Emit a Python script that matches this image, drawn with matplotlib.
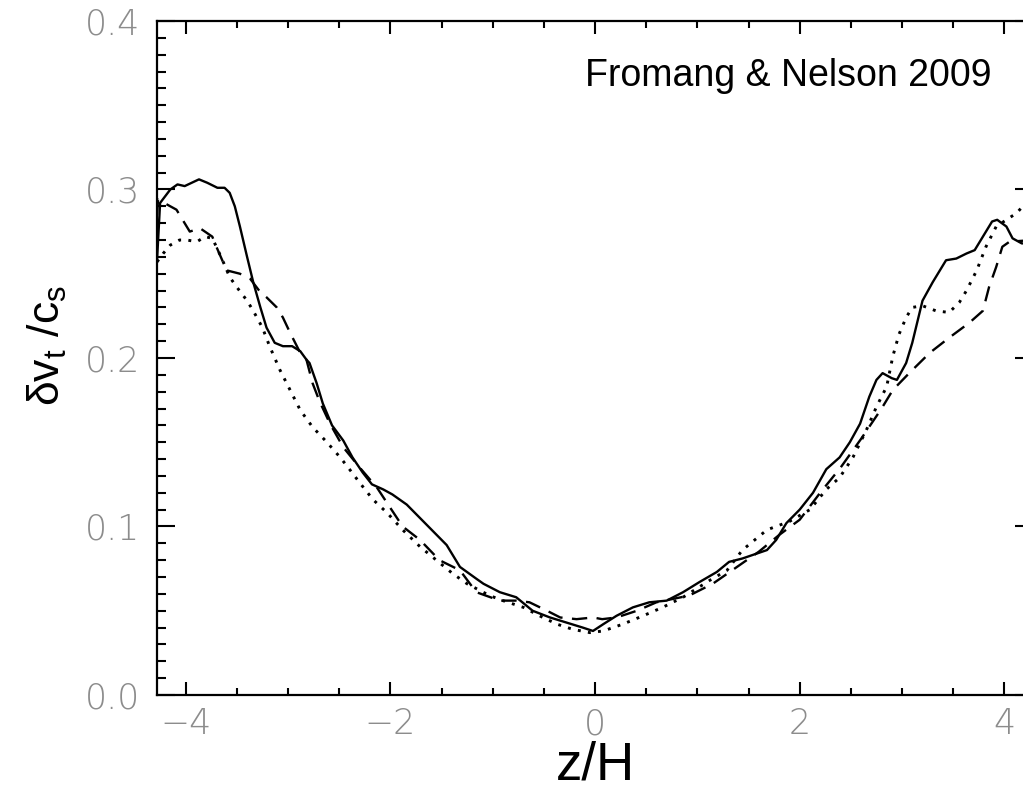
import matplotlib
matplotlib.use("Agg")
import matplotlib.pyplot as plt
from matplotlib.ticker import MultipleLocator, FixedLocator

plt.rcParams["mathtext.fontset"] = "custom"
plt.rcParams["mathtext.rm"] = "Liberation Sans"
plt.rcParams["mathtext.it"] = "Liberation Sans"

# Solid curve
z_solid = [-4.28, -4.25, -4.15, -4.08, -4.01, -3.94, -3.87, -3.79, -3.69, -3.62, -3.57,
           -3.52, -3.47, -3.40, -3.34, -3.27, -3.21, -3.13, -3.05, -2.96, -2.88, -2.82,
           -2.79, -2.72, -2.66, -2.57, -2.46, -2.37, -2.27, -2.18, -2.07, -1.98, -1.84,
           -1.71, -1.58, -1.45, -1.32, -1.16, -1.09, -0.93, -0.77, -0.61, -0.44, -0.28,
           -0.12, -0.02, 0.08, 0.21, 0.37, 0.53, 0.70, 0.86, 1.02, 1.19, 1.31, 1.44,
           1.68, 1.77, 1.87, 2.00, 2.13, 2.26, 2.39, 2.49, 2.59, 2.68, 2.75, 2.81, 2.90,
           2.95, 3.04, 3.10, 3.20, 3.30, 3.43, 3.53, 3.63, 3.71, 3.79, 3.88, 3.93, 4.02,
           4.08, 4.17, 4.28]
v_solid = [0.258, 0.292, 0.300, 0.303, 0.302, 0.304, 0.306, 0.304, 0.301, 0.301, 0.298,
           0.290, 0.278, 0.260, 0.245, 0.230, 0.218, 0.209, 0.207, 0.207, 0.204, 0.199,
           0.197, 0.185, 0.173, 0.160, 0.151, 0.141, 0.132, 0.125, 0.122, 0.119, 0.113,
           0.105, 0.097, 0.089, 0.076, 0.069, 0.066, 0.061, 0.058, 0.050, 0.046, 0.043,
           0.040, 0.038, 0.042, 0.047, 0.052, 0.055, 0.056, 0.061, 0.067, 0.073, 0.079,
           0.081, 0.086, 0.092, 0.102, 0.110, 0.120, 0.134, 0.141, 0.150, 0.161, 0.177,
           0.187, 0.191, 0.188, 0.187, 0.197, 0.209, 0.234, 0.245, 0.258, 0.259, 0.262,
           0.264, 0.272, 0.281, 0.282, 0.278, 0.271, 0.268, 0.268]

# Dashed curve
z_dashed = [-4.28, -4.27, -4.09, -4.03, -3.96, -3.86, -3.74, -3.70, -3.60, -3.47, -3.37,
            -3.27, -3.21, -3.11, -3.05, -2.98, -2.88, -2.82, -2.76, -2.69, -2.59, -2.46,
            -2.30, -2.13, -2.00, -1.88, -1.71, -1.52, -1.32, -1.16, -0.93, -0.77, -0.64,
            -0.47, -0.34, -0.18, -0.02, 0.07, 0.21, 0.41, 0.60, 0.92, 1.15, 1.34, 1.60,
            1.80, 2.00, 2.20, 2.40, 2.60, 2.80, 2.91, 3.07, 3.27, 3.46, 3.66, 3.79, 3.85,
            3.92, 3.98, 4.05, 4.28]
v_dashed = [0.285, 0.294, 0.288, 0.282, 0.275, 0.277, 0.272, 0.266, 0.252, 0.250, 0.247,
            0.239, 0.236, 0.230, 0.224, 0.215, 0.203, 0.199, 0.185, 0.174, 0.161, 0.147,
            0.135, 0.123, 0.111, 0.100, 0.092, 0.080, 0.074, 0.061, 0.056, 0.056, 0.055,
            0.050, 0.046, 0.045, 0.046, 0.045, 0.046, 0.050, 0.055, 0.059, 0.066, 0.074,
            0.085, 0.095, 0.104, 0.120, 0.135, 0.152, 0.170, 0.181, 0.191, 0.203, 0.212,
            0.221, 0.228, 0.242, 0.254, 0.266, 0.269, 0.270]

# Dotted curve
z_dotted = [-4.28, -4.22, -4.15, -4.06, -3.99, -3.89, -3.81, -3.74, -3.70, -3.64, -3.57,
            -3.50, -3.40, -3.34, -3.25, -3.18, -3.08, -2.98, -2.88, -2.76, -2.62, -2.49,
            -2.40, -2.30, -2.17, -2.03, -1.88, -1.71, -1.55, -1.39, -1.25, -1.03, -0.90,
            -0.70, -0.51, -0.37, -0.22, -0.05, 0.08, 0.27, 0.47, 0.66, 0.86, 1.12, 1.29,
            1.44, 1.68, 1.90, 2.10, 2.26, 2.39, 2.52, 2.65, 2.75, 2.85, 2.91, 2.97, 3.04,
            3.10, 3.20, 3.33, 3.46, 3.56, 3.63, 3.73, 3.82, 3.92, 4.02, 4.12, 4.18, 4.28]
v_dotted = [0.257, 0.262, 0.267, 0.270, 0.270, 0.269, 0.272, 0.271, 0.266, 0.258, 0.248,
            0.242, 0.234, 0.228, 0.218, 0.207, 0.193, 0.181, 0.169, 0.159, 0.150, 0.141,
            0.134, 0.126, 0.116, 0.108, 0.098, 0.088, 0.080, 0.072, 0.066, 0.059, 0.056,
            0.052, 0.046, 0.042, 0.039, 0.037, 0.038, 0.042, 0.047, 0.052, 0.058, 0.068,
            0.074, 0.086, 0.098, 0.103, 0.110, 0.122, 0.129, 0.141, 0.157, 0.171, 0.183,
            0.201, 0.214, 0.224, 0.230, 0.231, 0.228, 0.227, 0.233, 0.240, 0.252, 0.266,
            0.278, 0.282, 0.286, 0.290, 0.295]

x_ticks = [-4, -2, 0, 2, 4]
x_ticklabels = ["\u22124", "\u22122", "0", "2", "4"]
y_ticks = [0.0, 0.1, 0.2, 0.3, 0.4]
y_ticklabels = ["0.0", "0.1", "0.2", "0.3", "0.4"]

fig = plt.figure(figsize=(10.23, 7.94), dpi=100)
ax = fig.add_axes([0.1535, 0.1247, 0.8563, 0.8489])

ax.plot(z_solid, v_solid, color="black", lw=1.7, ls="-", solid_joinstyle="round")
ax.plot(z_dashed, v_dashed, color="black", lw=1.7, ls=(0, (6.5, 4)))
ax.plot(z_dotted, v_dotted, color="black", lw=2.1, ls=(0, (1, 2.5)))

ax.set_xlim(-4.28, 4.28)
ax.set_ylim(0, 0.4)

for s in ax.spines.values():
    s.set_linewidth(1.6)

ax.xaxis.set_major_locator(FixedLocator(x_ticks))
ax.xaxis.set_minor_locator(MultipleLocator(0.5))
ax.yaxis.set_major_locator(FixedLocator(y_ticks))
ax.yaxis.set_minor_locator(MultipleLocator(0.01))
ax.set_xticklabels(x_ticklabels)
ax.set_yticklabels(y_ticklabels)

ax.tick_params(axis="x", which="major", direction="in", top=True, length=9.4, width=1.5,
               pad=9, labelsize=25, labelcolor="#8c8c8c")
ax.tick_params(axis="x", which="minor", direction="in", top=True, length=5, width=1.5)
ax.tick_params(axis="y", which="major", direction="in", right=True, length=13, width=1.5,
               pad=12, labelsize=25, labelcolor="#8c8c8c")
ax.tick_params(axis="y", which="minor", direction="in", right=True, length=6.5, width=1.5)
for lab in ax.get_xticklabels() + ax.get_yticklabels():
    lab.set_fontweight("light")

ax.text(0.953, 0.945, "Fromang & Nelson 2009", transform=ax.transAxes,
        ha="right", va="top", fontsize=27, family="Liberation Sans", color="black")

fig.text(0.582, 0.004, "z/H", ha="center", va="bottom", fontsize=38,
         family="Liberation Sans", color="black")
fig.text(0.046, 0.565, r"$\mathrm{\delta v_t\ /c_s}$", ha="center", va="center",
         rotation=90, fontsize=32, color="black")

fig.savefig("out.png", dpi=100)
